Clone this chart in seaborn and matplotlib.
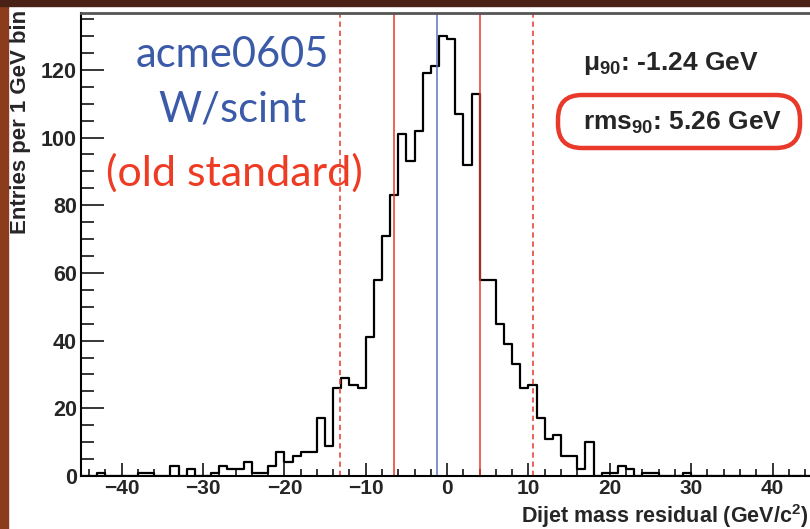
import numpy as np
import pandas as pd
import matplotlib
matplotlib.use("Agg")
import matplotlib.pyplot as plt
from matplotlib.patches import Rectangle, FancyBboxPatch
from matplotlib.ticker import MultipleLocator
import seaborn as sns

# histogram: 1 GeV bins from -45 to 45
bin_lo = -45
bin_hi = 45
counts = [
    0, 0, 1, 0, 0, 0, 0, 1, 1, 0,          # -45 .. -36
    0, 3, 0, 2, 0, 0, 1, 3, 2, 2,          # -35 .. -26
    4, 1, 1, 3, 7, 4, 6, 7, 7, 17,         # -25 .. -16
    9, 26, 29, 27, 26, 41, 58, 71, 83, 101,  # -15 .. -6
    93, 102, 119, 121, 130, 129, 107, 92, 113, 58,  # -5 .. 4
    58, 45, 39, 33, 26, 27, 17, 11, 12, 6,  # 5 .. 14
    6, 2, 10, 0, 1, 1, 3, 2, 0, 1,          # 15 .. 24
    1, 0, 0, 0, 1, 0, 0, 0, 0, 0,          # 25 .. 34
    0, 0, 0, 0, 0, 0, 0, 0, 0, 0,          # 35 .. 44
]
mu90 = -1.24
solid_lines = [-6.58, 4.07]
dashed_lines = [-13.12, 10.62]
y_max = 136.7

sns.set_style("ticks")
plt.rcParams['font.family'] = ['Liberation Sans', 'DejaVu Sans']
plt.rcParams['font.weight'] = 'bold'
plt.rcParams['mathtext.fontset'] = 'custom'
plt.rcParams['mathtext.rm'] = 'Liberation Sans:bold'
plt.rcParams['mathtext.it'] = 'Liberation Sans:bold'
plt.rcParams['mathtext.bf'] = 'Liberation Sans:bold'

df = pd.DataFrame({'residual': np.arange(bin_lo, bin_hi) + 0.5,
                   'entries': counts})

W, H = 810, 529
fig = plt.figure(figsize=(W / 100, H / 100), dpi=100)
fig.patch.set_facecolor('white')
tr = fig.dpi_scale_trans


def P(x, y):
    # pixel position (from top-left) -> inches
    return x / 100, (H - y) / 100


# slide background strips
fig.patches.append(Rectangle((0, 0), 0.08, H / 100, transform=tr,
                             color='#8a3c1c', zorder=0.5))
fig.patches.append(Rectangle((0, (H - 6) / 100), W / 100, 0.06, transform=tr,
                             color='#4a2215', zorder=0.5))

ax = fig.add_axes([81 / W, 53 / H, (813.2 - 81) / W, (476 - 13.3) / H])
sns.histplot(data=df, x='residual', weights='entries', binwidth=1,
             binrange=(bin_lo, bin_hi), element='step', fill=False,
             color='black', linewidth=1.6, ax=ax)

for v in solid_lines:
    ax.axvline(v, color='#e8382a', lw=1.1)
for v in dashed_lines:
    ax.axvline(v, color='#e8382a', lw=1.1, ls=(0, (3.5, 2.5)))
ax.axvline(mu90, color='#5b74c2', lw=1.1)

ax.set_xlim(bin_lo, bin_hi)
ax.set_ylim(0, y_max)
ax.set_xlabel('')
ax.set_ylabel('')
ax.xaxis.set_major_locator(MultipleLocator(10))
ax.xaxis.set_minor_locator(MultipleLocator(2))
ax.yaxis.set_major_locator(MultipleLocator(20))
ax.yaxis.set_minor_locator(MultipleLocator(5))
ax.tick_params(axis='x', which='major', direction='in', length=9.5, width=1.3,
               labelsize=15, pad=2, top=False)
ax.tick_params(axis='x', which='minor', direction='in', length=4.8, width=1.3, top=False)
ax.tick_params(axis='y', which='major', direction='in', length=16.5, width=1.3,
               labelsize=15.5, pad=3, right=False)
ax.tick_params(axis='y', which='minor', direction='in', length=9.4, width=1.3, right=False)
for s in ['left', 'bottom']:
    ax.spines[s].set_linewidth(1.5)
    ax.spines[s].set_color('black')
ax.spines['top'].set_linewidth(2)
ax.spines['top'].set_color('#555555')
ax.spines['right'].set_visible(False)

# axis titles
fig.text(*P(21, 10), 'Entries per 1 GeV bin', transform=tr, rotation=90,
         ha='center', va='top', fontsize=16)
fig.text(*P(808, 523), 'Dijet mass residual (GeV/c$^{2}$)', transform=tr,
         ha='right', va='baseline', fontsize=15.5)

# sample labels
hum = ['Lato', 'DejaVu Sans']
fig.text(*P(232, 67), 'acme0605', transform=tr, ha='center', va='baseline',
         fontsize=30, family=hum, weight='normal', color='#3b5ba8', zorder=5)
fig.text(*P(232, 122), 'W/scint', transform=tr, ha='center', va='baseline',
         fontsize=30, family=hum, weight='normal', color='#3b5ba8', zorder=5)
fig.text(*P(234, 186), '(old standard)', transform=tr, ha='center', va='baseline',
         fontsize=31, family=hum, weight='normal', color='#ee3b24', zorder=5)

# stats
fig.text(*P(583, 70), '\u03bc$_{90}$: -1.24 GeV', transform=tr, ha='left',
         va='baseline', fontsize=19)
fig.patches.append(FancyBboxPatch((5.58, (H - 148) / 100), 2.42, 0.53,
                                  boxstyle='round,pad=0,rounding_size=0.24',
                                  transform=tr, fc='white', ec='#e8392a', lw=3.2,
                                  zorder=2))
fig.text(*P(583, 130), 'rms$_{90}$: 5.26 GeV', transform=tr, ha='left',
         va='baseline', fontsize=19)

fig.savefig('out.png', dpi=100)
